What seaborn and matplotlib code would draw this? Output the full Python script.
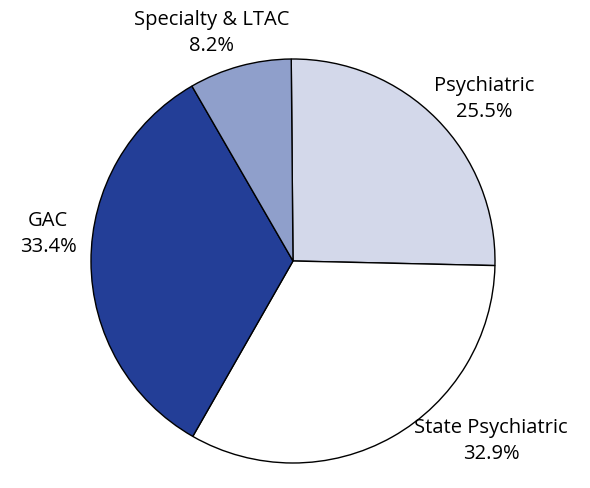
import matplotlib
matplotlib.use('Agg')
import matplotlib.pyplot as plt
import seaborn as sns

# Share of beds by hospital type
categories = ['Psychiatric', 'State Psychiatric', 'GAC', 'Specialty & LTAC']
shares = [25.5, 32.9, 33.4, 8.2]
colors = ['#d3d8ea', '#ffffff', '#233e97', '#8f9fcb']

sns.set_theme(style='white')
plt.rcParams['font.family'] = ['Open Sans', 'DejaVu Sans']

fig = plt.figure(figsize=(5.9, 4.88), dpi=100)
# pie centre at (293, 261) px, radius 202 px
ax = fig.add_axes([(293 - 202) / 590, (488 - 261 - 202) / 488, 404 / 590, 404 / 488])

wedges, texts = ax.pie(shares, colors=colors, startangle=90.5, counterclock=False,
                       labels=[f'{c}\n{s:.1f}%' for c, s in zip(categories, shares)],
                       wedgeprops=dict(edgecolor='black', linewidth=1.0),
                       textprops=dict(fontsize=14.5, color='black', ha='center',
                                      multialignment='center', linespacing=1.45))
ax.set_xlim(-1, 1)
ax.set_ylim(-1, 1)

# label centres in pixels
label_px = [(484, 99), (491, 441), (48, 234), (212, 33)]
for t, (px, py) in zip(texts, label_px):
    t.set_position(((px - 293) / 202, (261 - py) / 202))
    t.set_ha('center')
    t.set_va('center')
    t.set_clip_on(False)

fig.savefig('out.png', dpi=100)
